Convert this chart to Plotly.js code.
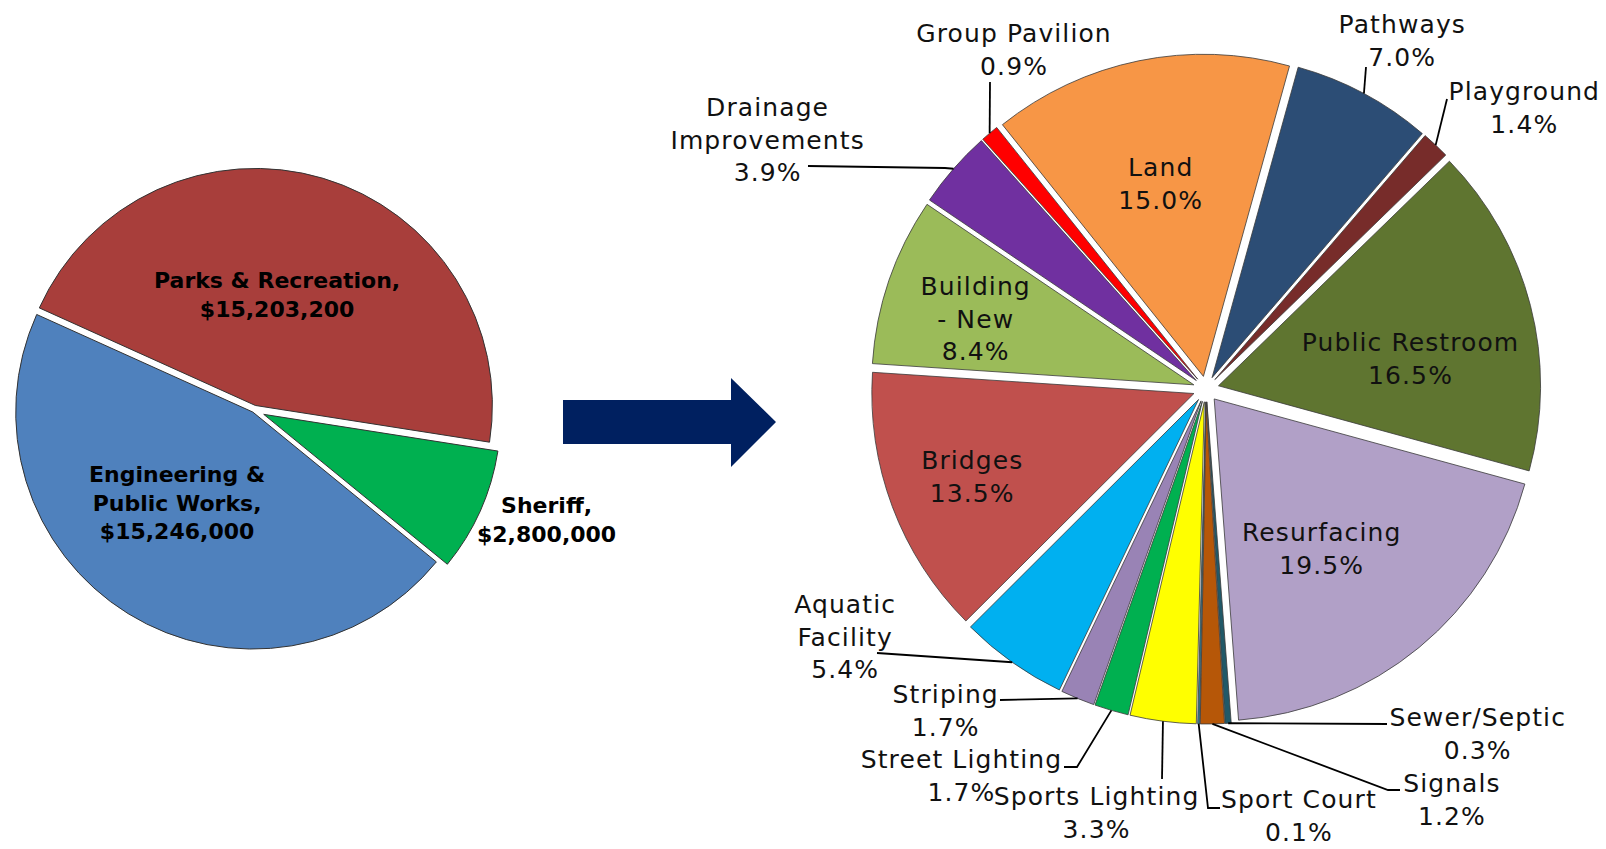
<!DOCTYPE html>
<html><head><meta charset="utf-8">
<script src="https://cdn.plot.ly/plotly-3.0.1.min.js"></script>
<style>
html,body{margin:0;padding:0;background:#fff;overflow:hidden;} #chart{width:1606px;height:849px;}
#chart .annotation:not([data-index="0"]):not([data-index="1"]):not([data-index="2"]) .annotation-text{letter-spacing:1.1px;}
</style>
</head><body><div id="chart"></div>
<script>
// ---- Data: left pie (departments) ----
const deptNames  = ['Parks & Recreation', 'Sheriff', 'Engineering & Public Works'];
const deptValues = [15203200, 2800000, 15246000];

// ---- Data: right pie (Parks & Recreation categories, % of budget) ----
const categories = ['Aquatic Facility','Bridges','Building - New','Drainage Improvements','Group Pavilion',
  'Land','Pathways','Playground','Public Restroom','Resurfacing','Sewer/Septic','Signals','Sport Court',
  'Sports Lighting','Street Lighting','Striping'];
const shares = [5.4, 13.5, 8.4, 3.9, 0.9, 15.0, 7.0, 1.4, 16.5, 19.5, 0.3, 1.2, 0.1, 3.3, 1.7, 1.7];

// ---- Styles ----
const W = 1606, H = 849;
const deptColors = ['#A83E3B', '#00B050', '#4F81BD'];
const deptPull = [0.02, 0.045, 0.01];
const catColors = ['#00B0F0','#C0504D','#9BBB59','#7030A0','#FF0000','#F79646','#2C4D75','#772C2A',
  '#5F7530','#B1A0C7','#215968','#B65708','#31859C','#FFFF00','#00B050','#9983B5'];
const catPull = categories.map(() => 0.04);
const leftDomain  = {x: [0.00392, 0.31239], y: [0.22532, 0.80883]};
const rightDomain = {x: [0.54234, 0.95953], y: [0.14723, 0.93640]};
const leftRotation = -65.7, rightRotation = -154.4;

// label layout (pixel centres) and leader-line bend points (label side first)
const catLabelPos = {
  'Aquatic Facility': {x: 845, y: 637, out: true, leader: [[877, 653]]},
  'Bridges': {x: 972, y: 477},
  'Building - New': {x: 975, y: 319},
  'Drainage Improvements': {x: 767, y: 140, out: true, leader: [[808, 166], [945, 168]]},
  'Group Pavilion': {x: 1014, y: 50, out: true, leader: [[990, 82]]},
  'Land': {x: 1160, y: 184},
  'Pathways': {x: 1402, y: 41, out: true, leader: [[1366, 67]]},
  'Playground': {x: 1524, y: 108, out: true, leader: [[1447, 99]]},
  'Public Restroom': {x: 1410, y: 359},
  'Resurfacing': {x: 1321, y: 549},
  'Sewer/Septic': {x: 1477, y: 734, out: true, leader: [[1387, 724]]},
  'Signals': {x: 1452, y: 800, out: true, leader: [[1400, 790], [1388, 790]]},
  'Sport Court': {x: 1299, y: 816, out: true, leader: [[1220, 808], [1208, 808]]},
  'Sports Lighting': {x: 1096, y: 813, out: true, leader: [[1162, 779]]},
  'Street Lighting': {x: 962, y: 776, out: true, leader: [[1064, 767], [1077, 767]]},
  'Striping': {x: 945, y: 711, out: true, leader: [[1000, 700]]}
};
const catWrap = {'Drainage Improvements': 'Drainage<br>Improvements', 'Aquatic Facility': 'Aquatic<br>Facility',
  'Building - New': 'Building<br>- New'};
const deptLabelPos = [{x: 277, y: 295}, {x: 546, y: 520}, {x: 177, y: 503}];
const deptWrap = {'Engineering & Public Works': 'Engineering &amp;<br>Public Works'};

// ---- helpers ----
const px = x => x / W, py = y => 1 - y / H;
function geom(domain, pulls) {
  const maxPull = Math.max(...pulls);
  const bw = W * (domain.x[1] - domain.x[0]), bh = H * (domain.y[1] - domain.y[0]);
  return {r: Math.min(bw, bh) / (2 * (1 + maxPull)), cx: W * (domain.x[0] + domain.x[1]) / 2,
          cy: H * (1 - domain.y[0]) - bh / 2};
}
function rimPoints(values, pulls, rotation, g) {
  const tot = values.reduce((a, b) => a + b, 0);
  let cum = 0;
  return values.map((v, i) => {
    const a = (rotation + (cum + v / 2) / tot * 360) * Math.PI / 180;
    cum += v;
    const R = g.r * (1 + pulls[i]);
    return [g.cx + R * Math.sin(a), g.cy - R * Math.cos(a)];
  });
}
const fmtMoney = v => '$' + v.toLocaleString('en-US');

// ---- traces ----
const traces = [
  {type: 'pie', labels: deptNames, values: deptValues, sort: false, direction: 'clockwise',
   rotation: leftRotation, pull: deptPull, domain: leftDomain, textinfo: 'none', showlegend: false,
   marker: {colors: deptColors, line: {color: '#333333', width: 1}}, hoverinfo: 'label+value'},
  {type: 'pie', labels: categories, values: shares, sort: false, direction: 'clockwise',
   rotation: rightRotation, pull: catPull, domain: rightDomain, textinfo: 'none', showlegend: false,
   marker: {colors: catColors, line: {color: '#3a3a3a', width: 0.8}}, hoverinfo: 'label+percent'}
];

// ---- annotations & shapes ----
const annotations = [];
const shapes = [];
const catFont = {family: 'DejaVu Sans', size: 25, color: '#111111'};
const deptFont = {family: 'DejaVu Sans', size: 22, color: '#000000', weight: 'bold'};

deptNames.forEach((n, i) => {
  const name = deptWrap[n] || n.replace('&', '&amp;');
  annotations.push({xref: 'paper', yref: 'paper', x: px(deptLabelPos[i].x), y: py(deptLabelPos[i].y),
    xanchor: 'center', yanchor: 'middle', showarrow: false, align: 'center',
    text: '<b>' + name + ',<br>' + fmtMoney(deptValues[i]) + '</b>', font: deptFont});
});

const gR = geom(rightDomain, catPull);
const rims = rimPoints(shares, catPull, rightRotation, gR);
categories.forEach((c, i) => {
  const p = catLabelPos[c];
  annotations.push({xref: 'paper', yref: 'paper', x: px(p.x), y: py(p.y), xanchor: 'center', yanchor: 'middle',
    showarrow: false, align: 'center', text: (catWrap[c] || c) + '<br>' + shares[i].toFixed(1) + '%', font: catFont});
  if (p.out) {
    const pts = p.leader.concat([rims[i]]);
    const path = pts.map((q, k) => (k ? 'L ' : 'M ') + px(q[0]).toFixed(5) + ' ' + py(q[1]).toFixed(5)).join(' ');
    shapes.push({type: 'path', xref: 'paper', yref: 'paper', path: path, line: {color: '#000000', width: 1.8}});
  }
});

// block arrow between the two pies
const arrowPts = [[563, 400], [731, 400], [731, 378], [776, 422], [731, 467], [731, 444], [563, 444]];
shapes.push({type: 'path', xref: 'paper', yref: 'paper', layer: 'below',
  path: arrowPts.map((q, k) => (k ? 'L ' : 'M ') + px(q[0]).toFixed(5) + ' ' + py(q[1]).toFixed(5)).join(' ') + ' Z',
  fillcolor: '#002060', line: {width: 0}});

const layout = {width: W, height: H, margin: {l: 0, r: 0, t: 0, b: 0}, paper_bgcolor: '#ffffff',
  showlegend: false, annotations: annotations, shapes: shapes};

Plotly.newPlot('chart', traces, layout, {displayModeBar: false, staticPlot: true});
</script></body></html>
